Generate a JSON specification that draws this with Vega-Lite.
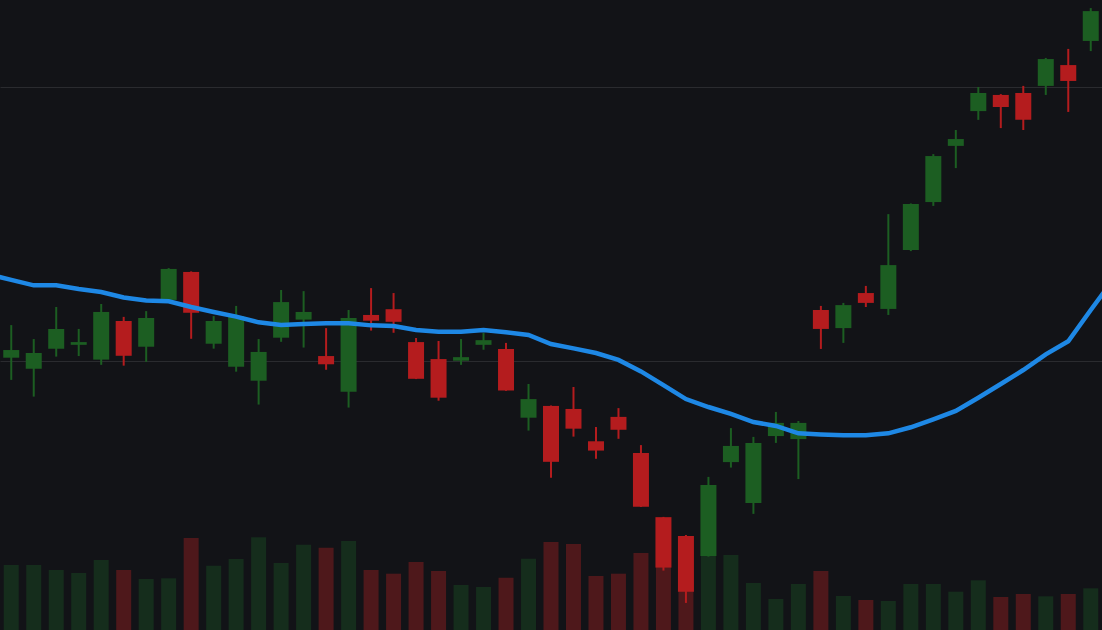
{
  "$schema": "https://vega.github.io/schema/vega-lite/v6.json",
  "width": 1102,
  "height": 630,
  "padding": 0,
  "autosize": {"type": "fit", "contains": "padding"},
  "background": "#121317",
  "config": {"view": {"stroke": null}},
  "datasets": {
    "candles": [
      {"i": 0, "open": 100.12, "high": 101.31, "low": 99.31, "close": 100.40, "vol": 650000},
      {"i": 1, "open": 99.72, "high": 100.80, "low": 98.70, "close": 100.29, "vol": 650000},
      {"i": 2, "open": 100.45, "high": 101.97, "low": 100.16, "close": 101.17, "vol": 600000},
      {"i": 3, "open": 100.59, "high": 101.17, "low": 100.18, "close": 100.69, "vol": 570000},
      {"i": 4, "open": 100.05, "high": 102.08, "low": 99.86, "close": 101.79, "vol": 700000},
      {"i": 5, "open": 101.46, "high": 101.61, "low": 99.83, "close": 100.19, "vol": 600000},
      {"i": 6, "open": 100.52, "high": 101.82, "low": 99.97, "close": 101.57, "vol": 510000},
      {"i": 7, "open": 102.23, "high": 103.39, "low": 102.21, "close": 103.36, "vol": 517000},
      {"i": 8, "open": 103.25, "high": 103.27, "low": 100.81, "close": 101.76, "vol": 920000},
      {"i": 9, "open": 100.63, "high": 101.64, "low": 100.45, "close": 101.46, "vol": 643000},
      {"i": 10, "open": 99.79, "high": 102.01, "low": 99.61, "close": 101.64, "vol": 710000},
      {"i": 11, "open": 99.28, "high": 100.80, "low": 98.41, "close": 100.33, "vol": 927000},
      {"i": 12, "open": 100.85, "high": 102.59, "low": 100.70, "close": 102.15, "vol": 670000},
      {"i": 13, "open": 101.51, "high": 102.55, "low": 100.49, "close": 101.79, "vol": 853000},
      {"i": 14, "open": 100.18, "high": 101.20, "low": 99.68, "close": 99.88, "vol": 823000},
      {"i": 15, "open": 98.88, "high": 101.86, "low": 98.30, "close": 101.57, "vol": 890000},
      {"i": 16, "open": 101.68, "high": 102.66, "low": 101.11, "close": 101.47, "vol": 600000},
      {"i": 17, "open": 101.89, "high": 102.48, "low": 101.03, "close": 101.43, "vol": 563000},
      {"i": 18, "open": 100.69, "high": 100.84, "low": 99.34, "close": 99.35, "vol": 680000},
      {"i": 19, "open": 100.07, "high": 100.73, "low": 98.55, "close": 98.66, "vol": 590000},
      {"i": 20, "open": 100.01, "high": 100.80, "low": 99.86, "close": 100.14, "vol": 450000},
      {"i": 21, "open": 100.59, "high": 101.02, "low": 100.41, "close": 100.76, "vol": 430000},
      {"i": 22, "open": 100.44, "high": 100.66, "low": 98.91, "close": 98.92, "vol": 523000},
      {"i": 23, "open": 97.93, "high": 99.16, "low": 97.46, "close": 98.61, "vol": 713000},
      {"i": 24, "open": 98.36, "high": 98.38, "low": 95.74, "close": 96.32, "vol": 880000},
      {"i": 25, "open": 98.25, "high": 99.05, "low": 97.24, "close": 97.53, "vol": 860000},
      {"i": 26, "open": 97.07, "high": 97.59, "low": 96.43, "close": 96.73, "vol": 540000},
      {"i": 27, "open": 97.96, "high": 98.28, "low": 97.16, "close": 97.49, "vol": 563000},
      {"i": 28, "open": 96.64, "high": 96.93, "low": 94.67, "close": 94.68, "vol": 770000},
      {"i": 29, "open": 94.30, "high": 94.31, "low": 92.35, "close": 92.46, "vol": 680000},
      {"i": 30, "open": 93.61, "high": 93.65, "low": 91.17, "close": 91.58, "vol": 550000},
      {"i": 31, "open": 92.88, "high": 95.77, "low": 92.86, "close": 95.47, "vol": 760000},
      {"i": 32, "open": 96.31, "high": 97.55, "low": 96.11, "close": 96.90, "vol": 750000},
      {"i": 33, "open": 94.82, "high": 97.23, "low": 94.42, "close": 97.01, "vol": 470000},
      {"i": 34, "open": 97.26, "high": 98.14, "low": 97.01, "close": 97.74, "vol": 310000},
      {"i": 35, "open": 97.15, "high": 97.81, "low": 95.69, "close": 97.74, "vol": 460000},
      {"i": 36, "open": 101.86, "high": 102.01, "low": 100.44, "close": 101.17, "vol": 590000},
      {"i": 37, "open": 101.20, "high": 102.12, "low": 100.66, "close": 102.04, "vol": 340000},
      {"i": 38, "open": 102.48, "high": 102.74, "low": 101.97, "close": 102.12, "vol": 300000},
      {"i": 39, "open": 101.90, "high": 105.36, "low": 101.68, "close": 103.50, "vol": 290000},
      {"i": 40, "open": 104.05, "high": 105.75, "low": 104.01, "close": 105.73, "vol": 460000},
      {"i": 41, "open": 105.80, "high": 107.55, "low": 105.66, "close": 107.48, "vol": 460000},
      {"i": 42, "open": 107.85, "high": 108.43, "low": 107.04, "close": 108.10, "vol": 383000},
      {"i": 43, "open": 109.12, "high": 110.00, "low": 108.80, "close": 109.78, "vol": 497000},
      {"i": 44, "open": 109.71, "high": 109.74, "low": 108.50, "close": 109.27, "vol": 330000},
      {"i": 45, "open": 109.78, "high": 110.04, "low": 108.43, "close": 108.80, "vol": 360000},
      {"i": 46, "open": 110.04, "high": 111.06, "low": 109.71, "close": 111.02, "vol": 337000},
      {"i": 47, "open": 110.80, "high": 111.39, "low": 109.09, "close": 110.22, "vol": 360000},
      {"i": 48, "open": 111.68, "high": 112.88, "low": 111.31, "close": 112.77, "vol": 417000}
    ],
    "ma": [
      {"i": -1, "ma": 103.16}, {"i": 0, "ma": 102.96}, {"i": 1, "ma": 102.76},
      {"i": 2, "ma": 102.76}, {"i": 3, "ma": 102.63}, {"i": 4, "ma": 102.52},
      {"i": 5, "ma": 102.32}, {"i": 6, "ma": 102.21}, {"i": 7, "ma": 102.18},
      {"i": 8, "ma": 101.97}, {"i": 9, "ma": 101.79}, {"i": 10, "ma": 101.62},
      {"i": 11, "ma": 101.41}, {"i": 12, "ma": 101.31}, {"i": 13, "ma": 101.35},
      {"i": 14, "ma": 101.38}, {"i": 15, "ma": 101.38}, {"i": 16, "ma": 101.30},
      {"i": 17, "ma": 101.28}, {"i": 18, "ma": 101.13}, {"i": 19, "ma": 101.07},
      {"i": 20, "ma": 101.07}, {"i": 21, "ma": 101.13}, {"i": 22, "ma": 101.05},
      {"i": 23, "ma": 100.95}, {"i": 24, "ma": 100.62}, {"i": 25, "ma": 100.46},
      {"i": 26, "ma": 100.29}, {"i": 27, "ma": 100.04}, {"i": 28, "ma": 99.62},
      {"i": 29, "ma": 99.12}, {"i": 30, "ma": 98.61}, {"i": 31, "ma": 98.32},
      {"i": 32, "ma": 98.07}, {"i": 33, "ma": 97.77}, {"i": 34, "ma": 97.63},
      {"i": 35, "ma": 97.36}, {"i": 36, "ma": 97.32}, {"i": 37, "ma": 97.29},
      {"i": 38, "ma": 97.29}, {"i": 39, "ma": 97.36}, {"i": 40, "ma": 97.58},
      {"i": 41, "ma": 97.87}, {"i": 42, "ma": 98.18}, {"i": 43, "ma": 98.66},
      {"i": 44, "ma": 99.16}, {"i": 45, "ma": 99.67}, {"i": 46, "ma": 100.24},
      {"i": 47, "ma": 100.72}, {"i": 48, "ma": 101.86}, {"i": 49, "ma": 102.98}
    ]
  },
  "encoding": {
    "x": {"field": "i", "type": "quantitative", "scale": {"domain": [-0.5, 48.5], "nice": false, "zero": false, "padding": 0}, "axis": null}
  },
  "layer": [
    {
      "data": {"name": "candles"},
      "mark": {"type": "bar", "size": 15},
      "encoding": {
        "y": {"field": "vol", "type": "quantitative", "scale": {"domain": [0, 6300000], "nice": false}, "axis": null},
        "color": {"condition": {"test": "datum.close >= datum.open", "value": "#152d1c"}, "value": "#4e181b"}
      }
    },
    {
      "layer": [
        {
          "data": {"name": "candles"},
          "mark": {"type": "rule", "strokeWidth": 2},
          "encoding": {
            "y": {"field": "low", "type": "quantitative", "scale": {"domain": [90.182, 113.175], "nice": false, "zero": false},
              "axis": {"values": [100, 110], "grid": true, "gridColor": "#2a2b2f", "gridWidth": 1, "labels": false, "ticks": false, "domain": false, "title": null}},
            "y2": {"field": "high"},
            "color": {"condition": {"test": "datum.close >= datum.open", "value": "#1c5e22"}, "value": "#b41c1e"}
          }
        },
        {
          "data": {"name": "candles"},
          "mark": {"type": "bar", "size": 16},
          "encoding": {
            "y": {"field": "open", "type": "quantitative"},
            "y2": {"field": "close"},
            "color": {"condition": {"test": "datum.close >= datum.open", "value": "#1c5e22"}, "value": "#b41c1e"}
          }
        },
        {
          "data": {"name": "ma"},
          "mark": {"type": "line", "color": "#1e88e5", "strokeWidth": 4.5, "clip": true},
          "encoding": {
            "y": {"field": "ma", "type": "quantitative"}
          }
        }
      ]
    }
  ],
  "resolve": {"scale": {"y": "independent"}}
}
